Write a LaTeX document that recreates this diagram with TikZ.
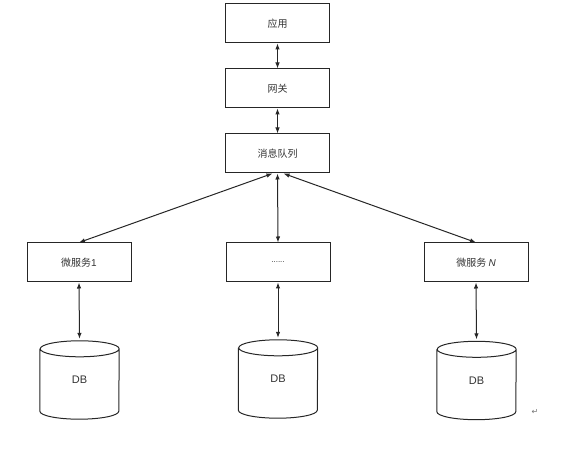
\documentclass[tikz,border=0pt]{standalone}
\usepackage{fontspec}
\setmainfont{Noto Sans CJK SC}
\newfontfamily\latf{Liberation Sans}
\newfontfamily\symf{DejaVu Sans}
\usetikzlibrary{arrows.meta}
\tikzset{
  box/.style={draw=black!85, line width=1pt, minimum width=104pt, minimum height=39pt, inner sep=0pt, font=\fontsize{10}{12}\selectfont, text=black!80},
  dbnode/.style={minimum width=79pt, minimum height=78pt, inner sep=0pt, font=\latf\fontsize{11}{13}\selectfont, text=black!80},
  cyl/.style={draw=black!85, line width=1pt},
  link/.style={line width=1pt, black!85, {Latex[length=6pt,width=4.5pt]}-{Latex[length=6pt,width=4.5pt]}}
}
\newcommand{\drawcyl}[1]{%
  \draw[cyl] ([yshift=-8pt]#1.north west) -- ([yshift=8pt]#1.south west)
    arc[start angle=180, end angle=360, x radius=39.5pt, y radius=8pt]
    -- ([yshift=-8pt]#1.north east)
    arc[start angle=0, end angle=180, x radius=39.5pt, y radius=8pt]
    arc[start angle=180, end angle=360, x radius=39.5pt, y radius=8pt];}
\begin{document}
\begin{tikzpicture}[x=1pt,y=1pt]
\useasboundingbox (0,0) rectangle (569,454);
\node[box] (app) at (277.5,430.5) {应用};
\node[box] (gw) at (277.5,365.5) {网关};
\node[box] (mq) at (277.5,300.5) {消息队列};
\node[box] (ms1) at (79,191.5) {微服务{\latf 1}};
\node[box] (msm) at (278,191.5) {{\latf\fontsize{8}{9}\selectfont ......}};
\node[box] (msn) at (476,191.5) {微服务 {\latf\itshape N}};
\node[dbnode] (db1) at (79.5,74) {DB};
\node[dbnode] (dbm) at (278,75) {DB};
\node[dbnode] (dbn) at (476.5,73.5) {DB};
\drawcyl{db1}
\drawcyl{dbm}
\drawcyl{dbn}
\draw[link] (app.south) -- (gw.north);
\draw[link] (gw.south) -- (mq.north);
\draw[link] ([xshift=-5pt]mq.south) -- (ms1.north);
\draw[link] (mq.south) -- (msm.north);
\draw[link] ([xshift=6pt]mq.south) -- (msn.north);
\draw[link] (ms1.south) -- ([yshift=2pt]db1.north);
\draw[link] (msm.south) -- ([yshift=2pt]dbm.north);
\draw[link] (msn.south) -- ([yshift=2pt]dbn.north);
\node[font=\symf\fontsize{8}{9}\selectfont, text=black!55, inner sep=0pt] (ret) at (535,42) {↵};
\end{tikzpicture}
\end{document}
